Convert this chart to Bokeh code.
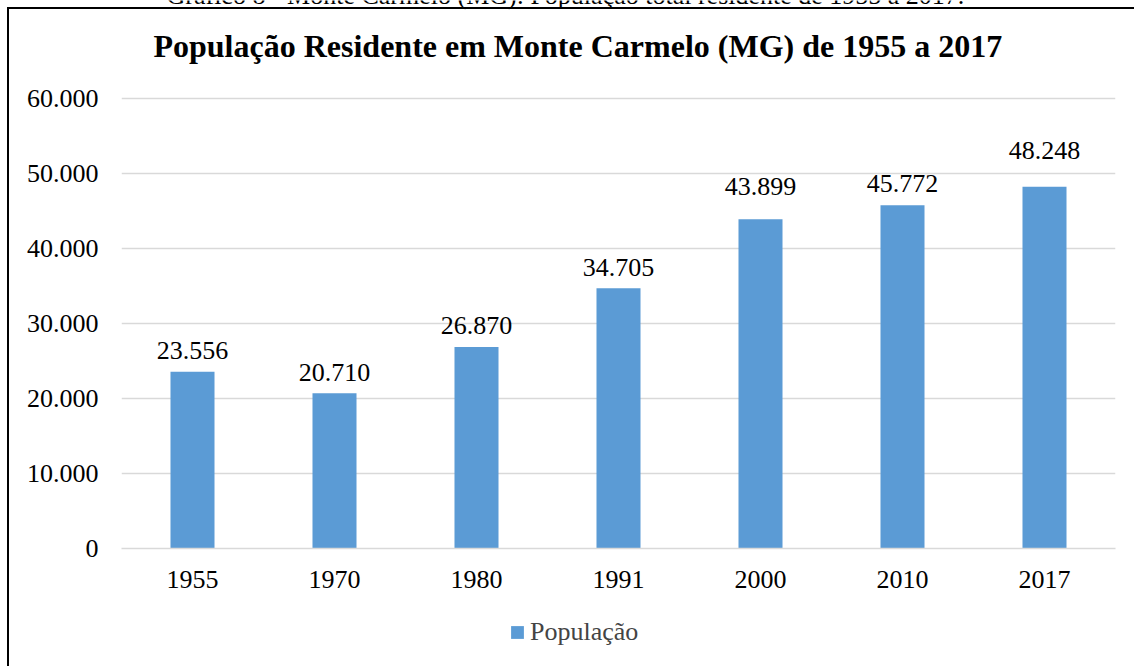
from bokeh.plotting import figure
from bokeh.layouts import column
from bokeh.models import ColumnDataSource, Legend, LegendItem, Range1d, FixedTicker, Label
from bokeh.embed import file_html
from bokeh.resources import INLINE
from bokeh.core.properties import value

# ---- data ----
years = ["1955", "1970", "1980", "1991", "2000", "2010", "2017"]
population = [23556, 20710, 26870, 34705, 43899, 45772, 48248]
y_ticks = [0, 10000, 20000, 30000, 40000, 50000, 60000]
y_tick_labels = ["0", "10.000", "20.000", "30.000", "40.000", "50.000", "60.000"]
title_text = "População Residente em Monte Carmelo (MG) de 1955 a 2017"
caption_text = "Gráfico 8 - Monte Carmelo (MG): População total residente de 1955 a 2017."
series_name = "População"

# styling: lift (px) of each value label above its bar
label_lift = [-21, -21, -21, -21, -33, -22, -36]

FONT = "Liberation Serif"
BAR = "#5B9BD5"
GRID = "#D9D9D9"

# layout geometry (pixels): frame reaches the canvas top, 0 sits 548px down
ZERO_PX = 548
AXIS_PX = 450          # pixels for 0..60000
MAIN_H = 600
LEG_H = 666 - MAIN_H
y_end = y_ticks[-1] * ZERO_PX / AXIS_PX
def px_to_y(py):       # canvas pixel row -> data value
    return y_ticks[-1] * (ZERO_PX - py) / AXIS_PX

labels = [f"{v:,}".replace(",", ".") for v in population]
src = ColumnDataSource(dict(x=years, top=population, lab=labels, off=label_lift))

p = figure(width=1134, height=MAIN_H, x_range=years, y_range=Range1d(0, y_end),
           output_backend="svg", toolbar_location=None,
           min_border_left=121, min_border_right=19,
           min_border_top=0, min_border_bottom=MAIN_H - ZERO_PX)
p.outline_line_color = None
p.background_fill_color = None
p.border_fill_color = None
p.styles = {
    "background": ("linear-gradient(#000, #000) 7px 7px / 2px 100% no-repeat, "
                   "linear-gradient(#000, #000) 7px 7px / 100% 2px no-repeat, #ffffff"),
}

r = p.vbar(x="x", top="top", width=0.31, source=src, color=BAR, line_color=None)

p.text(x="x", y="top", text="lab", source=src, y_offset="off",
       text_align="center", text_baseline="alphabetic",
       text_font=value(FONT), text_font_size="26px", text_color="black")

# axes
p.yaxis.ticker = FixedTicker(ticks=y_ticks)
p.yaxis.major_label_overrides = {t: l for t, l in zip(y_ticks, y_tick_labels)}
p.yaxis.axis_line_color = None
p.yaxis.major_tick_line_color = None
p.yaxis.minor_tick_line_color = None
p.yaxis.major_label_standoff = 17
p.yaxis.major_label_text_font = FONT
p.yaxis.major_label_text_font_size = "26px"
p.yaxis.major_label_text_color = "black"

p.xaxis.axis_line_color = GRID
p.xaxis.axis_line_width = 1.5
p.xaxis.major_tick_line_color = None
p.xaxis.minor_tick_line_color = None
p.xaxis.major_label_standoff = 16
p.xaxis.major_label_text_font = FONT
p.xaxis.major_label_text_font_size = "26px"
p.xaxis.major_label_text_color = "black"

p.xgrid.grid_line_color = None
p.ygrid.grid_line_color = GRID
p.ygrid.grid_line_width = 1.5

# chart title and (cut-off) document caption, inside the tall frame
p.add_layout(Label(x=0.225, y=px_to_y(45.5), text=title_text,
                   text_align="left", text_baseline="alphabetic",
                   text_font=FONT, text_font_style="bold", text_font_size="32px",
                   text_color="black"))
p.add_layout(Label(x=0.317, y=px_to_y(-5.5), text=caption_text,
                   text_align="left", text_baseline="alphabetic",
                   text_font=FONT, text_font_size="26px", text_color="black"))

# legend strip: same bars, with the view range far above them so only the legend shows
pl = figure(width=1134, height=LEG_H, x_range=years, y_range=Range1d(1e6, 2e6),
            output_backend="svg", toolbar_location=None,
            x_axis_type=None, y_axis_type=None, min_border=0)
pl.outline_line_color = None
pl.background_fill_color = None
pl.border_fill_color = None
pl.xgrid.visible = False
pl.ygrid.visible = False
pl.styles = {"background": "linear-gradient(#000, #000) 7px 0px / 2px 100% no-repeat, #ffffff"}
rl = pl.vbar(x="x", top="top", width=0.31, source=src, color=BAR, line_color=None)

legend = Legend(items=[LegendItem(label=series_name, renderers=[rl])],
                orientation="horizontal", location=(388, 19),
                glyph_width=16, glyph_height=16, label_standoff=5,
                label_text_font=FONT, label_text_font_size="26px",
                border_line_color=None, background_fill_alpha=0,
                margin=0, padding=4, spacing=0)
pl.add_layout(legend)

layout = column(p, pl, spacing=0)
open("out.html", "w").write(file_html(layout, INLINE))
